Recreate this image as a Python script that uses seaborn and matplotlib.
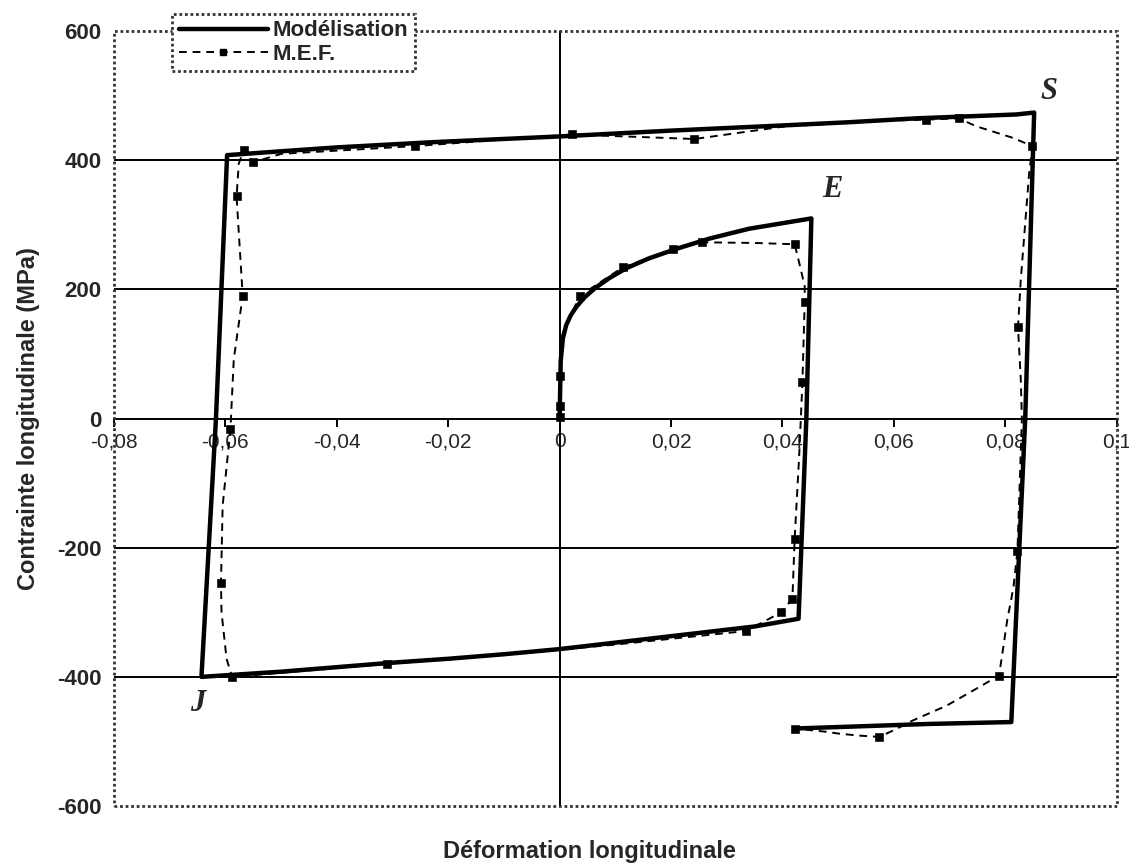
import matplotlib
matplotlib.use("Agg")
import matplotlib.pyplot as plt
from matplotlib import font_manager
from matplotlib.lines import Line2D
from matplotlib.patches import Rectangle
import seaborn as sns

# Modélisation: one continuous path (initial loading -> E -> J -> S -> end)
model_strain = [0.0, 0.0002, 0.0006, 0.0012, 0.002, 0.003, 0.0045, 0.0065, 0.009, 0.012, 0.016,
                0.021, 0.027, 0.034, 0.0452,
                0.0443, 0.0429,
                0.035, 0.02, 0.01, 0.0, -0.01, -0.02, -0.03, -0.05, -0.0643,
                -0.0617, -0.0597,
                -0.05, -0.04, -0.023, 0.0, 0.02, 0.04, 0.052, 0.064, 0.082, 0.0852,
                0.0836, 0.0811,
                0.066, 0.056, 0.0422]
model_stress = [0, 90, 125, 145, 160, 173, 188, 203, 218, 233, 248,
                263, 279, 294, 310,
                0, -310,
                -322, -337, -347, -357, -365, -372, -378, -392, -400,
                0, 408,
                414, 420, 428, 437, 446, 454, 459, 465, 471, 474,
                0, -470,
                -473, -476, -480]

# M.E.F.: dashed path
fem_strain = [0.0, 0.0, 0.0001, 0.0005, 0.0036, 0.0113, 0.0203, 0.0255, 0.035, 0.0422, 0.043, 0.044,
              0.044, 0.0436, 0.043, 0.0422, 0.0418, 0.0398, 0.0335, 0.01, -0.01, -0.031, -0.0588,
              -0.0598, -0.0607, -0.0608, -0.0605, -0.0591, -0.0585, -0.0569, -0.058, -0.0576, -0.0567,
              -0.055, -0.05, -0.026, 0.0022, 0.0242, 0.04, 0.0568, 0.0658, 0.0717, 0.0747, 0.0813,
              0.0849, 0.0843, 0.0828, 0.0823, 0.0828, 0.0830, 0.0822, 0.0815, 0.081, 0.0804, 0.0798,
              0.0789, 0.0753, 0.0694, 0.0633, 0.0604, 0.0574, 0.0538, 0.0502, 0.0478, 0.0422]
fem_stress = [2, 20, 66, 130, 190, 234, 262, 273, 272, 270, 242, 205,
              180, 57, -60, -186, -279, -300, -329, -350, -366, -380, -400,
              -372, -300, -255, -135, -16, 92, 190, 344, 395, 416,
              397, 410, 422, 440, 433, 452, 461, 463, 465, 453, 435,
              422, 380, 215, 142, 60, 0, -205, -260, -284, -310, -346,
              -398, -416, -445, -468, -481, -493, -491, -488, -485, -480]

# M.E.F. computed nodes (square markers)
fem_node_strain = [0.0, 0.0, 0.0001, 0.0036, 0.0113, 0.0203, 0.0255, 0.0422, 0.044, 0.0436,
                   0.0422, 0.0418, 0.0398, 0.0335, -0.031, -0.0588, -0.0608, -0.0591, -0.0569,
                   -0.058, -0.0567, -0.055, -0.026, 0.0022, 0.0242, 0.0658, 0.0717, 0.0849,
                   0.0823, 0.0822, 0.0789, 0.0574, 0.0422]
fem_node_stress = [2, 20, 66, 190, 234, 262, 273, 270, 180, 57,
                   -186, -279, -300, -329, -380, -400, -255, -16, 190,
                   344, 416, 397, 422, 440, 433, 463, 465, 422,
                   142, -205, -398, -493, -480]

x_ticks = [-0.08, -0.06, -0.04, -0.02, 0.0, 0.02, 0.04, 0.06, 0.08, 0.1]
x_tick_labels = ['-0,08', '-0,06', '-0,04', '-0,02', '0', '0,02', '0,04', '0,06', '0,08', '0,1']
y_ticks = [-600, -400, -200, 0, 200, 400, 600]

# point labels
point_names = ['S', 'E', 'J']
point_x = [0.0879, 0.0490, -0.0650]
point_y = [507, 355, -442]

sns.set_theme(style="white")
avail = {f.name for f in font_manager.fontManager.ttflist}
narrow = 'Liberation Sans Narrow' if 'Liberation Sans Narrow' in avail else 'Liberation Sans'
plt.rcParams['font.family'] = ['Liberation Sans', 'DejaVu Sans']

fig = plt.figure(figsize=(11.29, 8.66), dpi=100)
ax = fig.add_axes([0.101, 0.0693, 0.888, 0.8947])

sns.lineplot(x=model_strain, y=model_stress, sort=False, estimator=None, color='black',
             lw=3.2, ax=ax, zorder=4)
sns.lineplot(x=fem_strain, y=fem_stress, sort=False, estimator=None, color='black',
             lw=1.4, ax=ax, zorder=5, dashes=False, linestyle=(0, (4, 3)))
sns.scatterplot(x=fem_node_strain, y=fem_node_stress, marker='s', s=30, color='black',
                edgecolor='black', ax=ax, zorder=6)

ax.set_xlim(-0.08, 0.1)
ax.set_ylim(-600, 600)

# gridlines and y axis line through x = 0
for yv in [-400, -200, 200, 400]:
    ax.axhline(yv, color='black', lw=1.4, zorder=1)
ax.axvline(0, color='black', lw=1.4, zorder=1)

for s in ['top', 'right', 'left']:
    ax.spines[s].set_visible(False)
ax.spines['bottom'].set_position(('data', 0))
ax.spines['bottom'].set_color('black')
ax.spines['bottom'].set_linewidth(1.4)
ax.add_patch(Rectangle((0, 0), 1, 1, transform=ax.transAxes, fill=False, edgecolor='#333333',
                       lw=2.0, linestyle=(0, (1, 1)), zorder=7, clip_on=False))

ax.set_xticks(x_ticks)
ax.set_xticklabels(x_tick_labels, fontsize=15)
ax.tick_params(axis='x', direction='out', length=6, width=1.4, color='black', pad=4,
               bottom=True)
ax.set_yticks(y_ticks)
ax.set_yticklabels([str(v) for v in y_ticks], fontsize=16, fontweight='bold')
ax.tick_params(axis='y', length=0, pad=9)

ax.set_ylabel('Contrainte longitudinale (MPa)', fontsize=17, fontweight='bold',
              family=[narrow, 'DejaVu Sans'], labelpad=12)
fig.text(0.522, 0.004, 'Déformation longitudinale', ha='center', va='bottom', fontsize=17,
         fontweight='bold', family=[narrow, 'DejaVu Sans'])

for name, px, py in zip(point_names, point_x, point_y):
    ax.text(px, py, name, fontsize=22, fontweight='bold', fontstyle='italic',
            family=['Liberation Serif', 'DejaVu Serif'], ha='center', va='center', zorder=8)

handles = [Line2D([], [], color='black', lw=3.2),
           Line2D([], [], color='black', lw=1.4, linestyle=(0, (4, 3)), marker='s', markersize=5)]
leg = ax.legend(handles, ['Modélisation', 'M.E.F.'], loc='upper left',
                bbox_to_anchor=(0.047, 1.037), frameon=True, fancybox=False, framealpha=1,
                edgecolor='#333333', borderpad=0.3, labelspacing=0.1, handlelength=4.0,
                handletextpad=0.2, prop={'family': [narrow, 'DejaVu Sans'], 'size': 16,
                                         'weight': 'bold'})
leg.get_frame().set_linewidth(2.0)
leg.get_frame().set_linestyle((0, (1, 1)))
leg.set_zorder(10)

fig.savefig('out.png', dpi=100, facecolor='white')
